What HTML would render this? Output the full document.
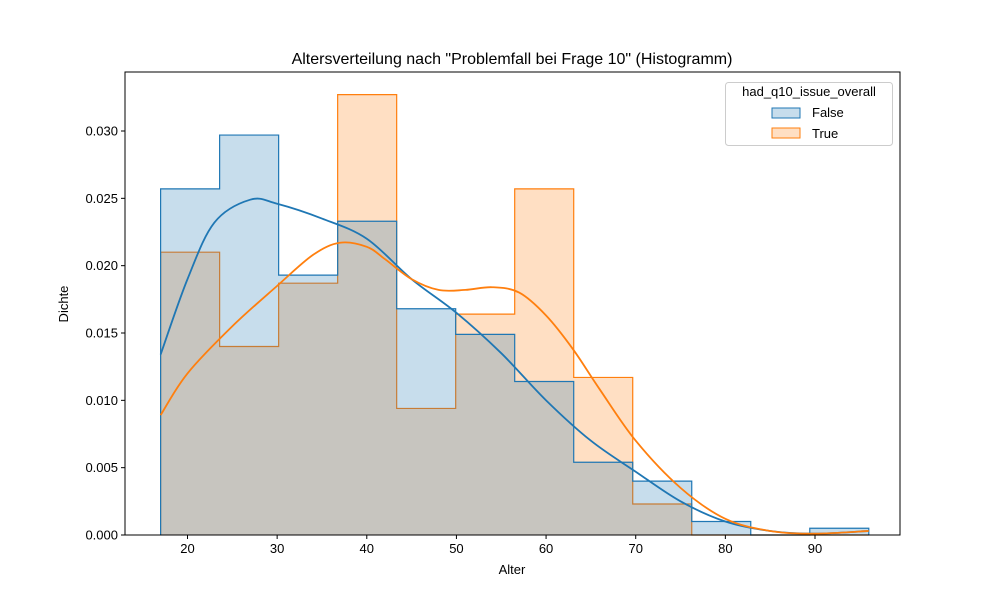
<!DOCTYPE html>
<html><head><meta charset="utf-8">
<style>
body{margin:0;background:#fff;}
svg{font-family:"Liberation Sans","DejaVu Sans",sans-serif;}
</style></head>
<body>
<svg id="chart" width="1000" height="600" viewBox="0 0 1000 600">
<rect width="1000" height="600" fill="#fff"/>
<g id="plot"></g>
</svg>
<script>
const binEdgesMin = 17, binEdgesMax = 96, binCount = 12;
const falseDensity = [0.0257,0.0297,0.0193,0.0233,0.0168,0.0149,0.0114,0.0054,0.0040,0.0010,0,0.0005];
const trueDensity = [0.0210,0.0140,0.0187,0.0327,0.0094,0.0164,0.0257,0.0117,0.0023,0,0,0];
const kdeAges = [17,20,23,27,30,35,40,45,50,55,60,65,70,75,80,85,90,96];
const falseKde = [0.0134,0.0190,0.0232,0.0249,0.0246,0.0235,0.0220,0.0190,0.0165,0.0135,0.0100,0.0070,0.0047,0.0025,0.0010,0.0003,0.0001,0.0003];
const trueKdeAges = [17,20,25,30,34,37,40,42,45,48,51,54,57,60,63,66,70,75,80,85,90,96];
const trueKde = [0.0089,0.0120,0.0155,0.0185,0.0208,0.0217,0.0214,0.0205,0.0190,0.0182,0.0182,0.0184,0.0180,0.0163,0.0138,0.0108,0.0070,0.0035,0.0012,0.0003,0.0001,0.0003];
const xTicks = [20,30,40,50,60,70,80,90];
const yTicks = [0,0.005,0.010,0.015,0.020,0.025,0.030];

const L=125,R=900,T=72,B=535;
const X = v => 187.5 + (v-20)*(815-187.5)/70;
const Y = v => 535 - v*(535-131)/0.030;
const g = document.getElementById('plot');
const NS='http://www.w3.org/2000/svg';
function mk(tag, attrs, parent){const e=document.createElementNS(NS,tag);for(const k in attrs)e.setAttribute(k,attrs[k]);(parent||g).appendChild(e);return e;}

function stepPath(vals){
  const w=(binEdgesMax-binEdgesMin)/binCount;
  let d=`M${X(binEdgesMin)},${Y(0)}`;
  vals.forEach((v,i)=>{d+=` L${X(binEdgesMin+i*w)},${Y(v)} L${X(binEdgesMin+(i+1)*w)},${Y(v)}`;});
  d+=` L${X(binEdgesMax)},${Y(0)}`;
  return d;
}
const ht = mk('path',{d:stepPath(trueDensity),fill:'#ff7f0e','fill-opacity':0.25,stroke:'#ff7f0e','stroke-width':1.2});


const hf = mk('path',{d:stepPath(falseDensity),fill:'#1f77b4','fill-opacity':0.25,stroke:'#1f77b4','stroke-width':1.2});



function smooth(xs,ys){
  const p=xs.map((x,i)=>[X(x),Y(ys[i])]);
  let d=`M${p[0][0]},${p[0][1]}`;
  for(let i=0;i<p.length-1;i++){
    const p0=p[i-1]||p[i],p1=p[i],p2=p[i+1],p3=p[i+2]||p2;
    const c1=[p1[0]+(p2[0]-p0[0])/6,p1[1]+(p2[1]-p0[1])/6];
    const c2=[p2[0]-(p3[0]-p1[0])/6,p2[1]-(p3[1]-p1[1])/6];
    d+=` C${c1[0]},${c1[1]} ${c2[0]},${c2[1]} ${p2[0]},${p2[1]}`;
  }
  return d;
}
const kf = mk('path',{d:smooth(kdeAges,falseKde),fill:'none',stroke:'#1f77b4','stroke-width':1.8});


const kt = mk('path',{d:smooth(trueKdeAges,trueKde),fill:'none',stroke:'#ff7f0e','stroke-width':1.8});



const frame = mk('rect',{x:L,y:T,width:R-L,height:B-T,fill:'none',stroke:'#000','stroke-width':1});



xTicks.forEach(t=>{
  const tk=mk('line',{x1:X(t),x2:X(t),y1:B,y2:B+4,stroke:'#000'});
  
  
  const tx=mk('text',{x:X(t),y:B+18,'text-anchor':'middle','font-size':13});
  tx.textContent=t;
  
  
});
yTicks.forEach(t=>{
  const tk=mk('line',{x1:L-4,x2:L,y1:Y(t),y2:Y(t),stroke:'#000'});
  
  
  const tx=mk('text',{x:L-7,y:Y(t)+4.5,'text-anchor':'end','font-size':13});
  tx.textContent=t.toFixed(3);
  
  
});
</script>
<svg width="1000" height="600" style="position:absolute;left:0;top:0" font-family="Liberation Sans, DejaVu Sans, sans-serif">
<text x="512" y="64" text-anchor="middle" font-size="16">Altersverteilung nach "Problemfall bei Frage 10" (Histogramm)</text>
<text x="512" y="574" text-anchor="middle" font-size="13">Alter</text>
<text x="68" y="304" text-anchor="middle" font-size="13" transform="rotate(-90 68 304)">Dichte</text>
<g>
<rect x="725.5" y="82.5" width="167" height="63" rx="3" fill="#fff" fill-opacity="0.8" stroke="#ccc"/>
<text x="809" y="96" text-anchor="middle" font-size="13">had_q10_issue_overall</text>
<g>
<rect x="772" y="108" width="28" height="10" fill="#1f77b4" fill-opacity="0.25" stroke="#1f77b4"/>
<text x="812" y="117" font-size="13">False</text></g>
<g>
<rect x="772" y="128" width="28" height="10" fill="#ff7f0e" fill-opacity="0.25" stroke="#ff7f0e"/>
<text x="812" y="138" font-size="13">True</text></g>
</g>
</svg>
</body></html>
